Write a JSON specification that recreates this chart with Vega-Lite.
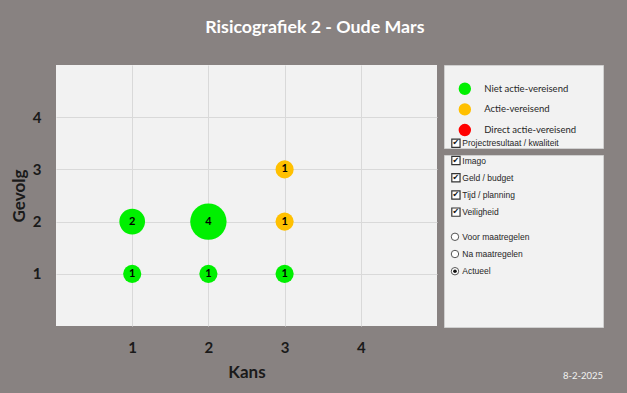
{
  "$schema": "https://vega.github.io/schema/vega-lite/v6.json",
  "background": "#888281",
  "padding": {"left": 10, "top": 18, "right": 24, "bottom": 12},
  "title": {"text": "Risicografiek 2 - Oude Mars", "color": "#ffffff", "font": "Lato", "fontSize": 17.8, "fontWeight": "bold", "anchor": "middle", "frame": "bounds", "offset": 28, "dx": 8},
  "config": {"view": {"stroke": null}, "font": "Lato"},
  "spacing": 7,
  "bounds": "flush",
  "hconcat": [
    {
      "width": 381,
      "height": 261,
      "view": {"fill": "#f2f2f2", "stroke": null},
      "data": {"values": [
        {"kans": 1, "gevolg": 1, "n": 1, "status": "Niet actie-vereisend"},
        {"kans": 2, "gevolg": 1, "n": 1, "status": "Niet actie-vereisend"},
        {"kans": 3, "gevolg": 1, "n": 1, "status": "Niet actie-vereisend"},
        {"kans": 1, "gevolg": 2, "n": 2, "status": "Niet actie-vereisend"},
        {"kans": 2, "gevolg": 2, "n": 4, "status": "Niet actie-vereisend"},
        {"kans": 3, "gevolg": 2, "n": 1, "status": "Actie-vereisend"},
        {"kans": 3, "gevolg": 3, "n": 1, "status": "Actie-vereisend"}
      ]},
      "encoding": {
        "x": {"field": "kans", "type": "quantitative", "scale": {"domain": [0, 5], "nice": false, "zero": false},
          "axis": {"title": "Kans", "values": [1, 2, 3, 4], "grid": true, "gridColor": "#d9d9d9", "ticks": false, "domain": false,
            "labelFont": "Lato", "labelFontSize": 15, "labelFontWeight": "bold", "labelColor": "#1a1a1a", "labelPadding": 14,
            "titleFont": "Lato", "titleFontSize": 17, "titleFontWeight": "bold", "titleColor": "#1a1a1a", "titlePadding": 9}},
        "y": {"field": "gevolg", "type": "quantitative", "scale": {"domain": [0, 5], "nice": false, "zero": false},
          "axis": {"title": "Gevolg", "values": [1, 2, 3, 4], "grid": true, "gridColor": "#d9d9d9", "ticks": false, "domain": false,
            "labelFont": "Lato", "labelFontSize": 15, "labelFontWeight": "bold", "labelColor": "#1a1a1a", "labelPadding": 15,
            "titleFont": "Lato", "titleFontSize": 17, "titleFontWeight": "bold", "titleColor": "#1a1a1a", "titlePadding": 4}}
      },
      "layer": [
        {"mark": {"type": "circle", "opacity": 1},
          "encoding": {
            "size": {"field": "n", "type": "quantitative", "scale": {"type": "linear", "domain": [0, 4], "range": [0, 1320]}, "legend": null},
            "color": {"field": "status", "type": "nominal", "scale": {"domain": ["Niet actie-vereisend", "Actie-vereisend", "Direct actie-vereisend"], "range": ["#00f000", "#ffc000", "#ff0000"]}, "legend": null}
          }},
        {"mark": {"type": "text", "font": "Lato", "fontSize": 11, "fontWeight": "bold", "color": "#000000"},
          "encoding": {"text": {"field": "n", "type": "quantitative"}}}
      ]
    },
    {
      "spacing": 7,
      "bounds": "flush",
      "vconcat": [
        {
          "width": 159,
          "height": 83,
          "view": {"fill": "#f2f2f2", "stroke": "#d0d0d0"},
          "data": {"values": [
            {"status": "Niet actie-vereisend", "rank": 1},
            {"status": "Actie-vereisend", "rank": 2},
            {"status": "Direct actie-vereisend", "rank": 3}
          ]},
          "encoding": {
            "y": {"field": "rank", "type": "quantitative", "scale": {"domain": [-0.15, 3.87], "reverse": true, "nice": false, "zero": false}, "axis": null}
          },
          "layer": [
            {"mark": {"type": "circle", "size": 154, "opacity": 1},
              "encoding": {
                "x": {"datum": 13.1, "type": "quantitative", "scale": {"domain": [0, 100], "nice": false}, "axis": null},
                "color": {"field": "status", "type": "nominal", "scale": {"domain": ["Niet actie-vereisend", "Actie-vereisend", "Direct actie-vereisend"], "range": ["#00f000", "#ffc000", "#ff0000"]}, "legend": null}
              }},
            {"mark": {"type": "text", "align": "left", "font": "Lato", "fontSize": 9.5, "color": "#262626"},
              "encoding": {
                "x": {"datum": 25.3, "type": "quantitative", "scale": {"domain": [0, 100], "nice": false}, "axis": null},
                "text": {"field": "status", "type": "nominal"}
              }}
          ]
        },
        {
          "width": 159,
          "height": 172,
          "view": {"fill": "#f2f2f2", "stroke": "#d0d0d0"},
          "title": {"text": "8-2-2025", "orient": "bottom", "anchor": "end", "offset": 44, "color": "#f2f2f2", "font": "Lato", "fontSize": 9.5, "fontWeight": "normal"},
          "data": {"values": [
            {"label": "Projectresultaat / kwaliteit", "item": 1, "type": "checkbox", "checked": true},
            {"label": "Imago", "item": 2, "type": "checkbox", "checked": true},
            {"label": "Geld / budget", "item": 3, "type": "checkbox", "checked": true},
            {"label": "Tijd / planning", "item": 4, "type": "checkbox", "checked": true},
            {"label": "Veiligheid", "item": 5, "type": "checkbox", "checked": true},
            {"label": "Voor maatregelen", "item": 6, "type": "radio", "checked": false},
            {"label": "Na maatregelen", "item": 7, "type": "radio", "checked": false},
            {"label": "Actueel", "item": 8, "type": "radio", "checked": true}
          ]},
          "encoding": {
            "y": {"field": "item", "type": "quantitative", "scale": {"domain": [1.68, 11.68], "reverse": true, "nice": false, "zero": false}, "axis": null}
          },
          "layer": [
            {"transform": [{"filter": "datum.type === 'checkbox'"}],
              "mark": {"type": "point", "shape": "square", "filled": true, "fill": "#ffffff", "stroke": "#333333", "strokeWidth": 1.2, "size": 68, "opacity": 1},
              "encoding": {"x": {"datum": 7.5, "type": "quantitative", "scale": {"domain": [0, 100], "nice": false}, "axis": null}}},
            {"transform": [{"filter": "datum.type === 'checkbox' && datum.checked"}],
              "mark": {"type": "text", "text": "✔", "font": "DejaVu Sans", "fontSize": 8, "color": "#111111"},
              "encoding": {"x": {"datum": 7.5, "type": "quantitative", "scale": {"domain": [0, 100], "nice": false}, "axis": null}}},
            {"transform": [{"filter": "datum.type === 'radio'"}],
              "mark": {"type": "point", "shape": "circle", "filled": true, "fill": "#ffffff", "stroke": "#555555", "strokeWidth": 1, "size": 55, "opacity": 1, "yOffset": 7.5},
              "encoding": {"x": {"datum": 6.9, "type": "quantitative", "scale": {"domain": [0, 100], "nice": false}, "axis": null}}},
            {"transform": [{"filter": "datum.type === 'radio' && datum.checked"}],
              "mark": {"type": "circle", "fill": "#111111", "size": 13, "opacity": 1, "yOffset": 7.5},
              "encoding": {"x": {"datum": 6.9, "type": "quantitative", "scale": {"domain": [0, 100], "nice": false}, "axis": null}}},
            {"transform": [{"filter": "datum.type === 'checkbox'"}],
              "mark": {"type": "text", "align": "left", "font": "Liberation Sans", "fontSize": 8.5, "color": "#262626"},
              "encoding": {"x": {"datum": 11.5, "type": "quantitative", "scale": {"domain": [0, 100], "nice": false}, "axis": null},
                "text": {"field": "label", "type": "nominal"}}},
            {"transform": [{"filter": "datum.type === 'radio'"}],
              "mark": {"type": "text", "align": "left", "font": "Liberation Sans", "fontSize": 8.5, "color": "#262626", "yOffset": 7.5},
              "encoding": {"x": {"datum": 11.5, "type": "quantitative", "scale": {"domain": [0, 100], "nice": false}, "axis": null},
                "text": {"field": "label", "type": "nominal"}}}
          ]
        }
      ]
    }
  ]
}
